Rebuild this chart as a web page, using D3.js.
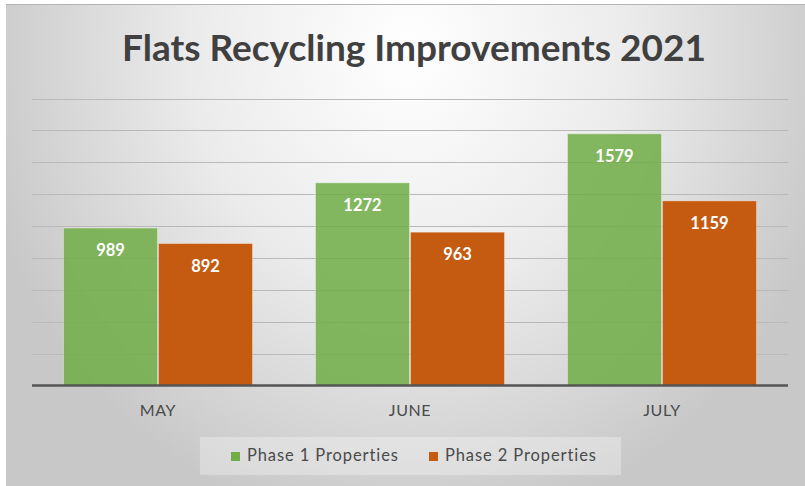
<!DOCTYPE html>
<html lang="en">
<head>
<meta charset="UTF-8">
<title>Flats Recycling Improvements 2021</title>
<script src="https://cdnjs.cloudflare.com/ajax/libs/d3/7.8.5/d3.min.js"></script>
<style>
  body { margin: 0; background: #fff; }
  svg { display: block; font-family: Lato, "Open Sans", sans-serif; }
</style>
</head>
<body>
<svg id="chart" width="805" height="486"></svg>
<script>
// data
var months = ['MAY', 'JUNE', 'JULY']
var seriesNames = ['Phase 1 Properties', 'Phase 2 Properties']
var phase1 = [989, 1272, 1579]
var phase2 = [892, 963, 1159]
var gridTicks = [200, 400, 600, 800, 1000, 1200, 1400, 1600, 1800]

var colors = ['#70AD47', '#C55A11']

var svg = d3.select('#chart')

// background with radial gradient
var defs = svg.append('defs')
var grad = defs.append('radialGradient')
    .attr('id', 'bg')
    .attr('gradientUnits', 'userSpaceOnUse')
    .attr('cx', 410).attr('cy', 50).attr('r', 440)
    .attr('gradientTransform', 'translate(410,50) scale(1,1.1) translate(-410,-50)')
grad.append('stop').attr('offset', 0).attr('stop-color', '#ffffff')
grad.append('stop').attr('offset', 0.5).attr('stop-color', '#ebebeb')
grad.append('stop').attr('offset', 1).attr('stop-color', '#c8c8c8')

svg.append('rect')
    .attr('x', 6).attr('y', 4)
    .attr('width', 805).attr('height', 490)
    .attr('fill', 'url(#bg)')
svg.append('line')
    .attr('x1', 6).attr('x2', 805)
    .attr('y1', 4.5).attr('y2', 4.5)
    .style('stroke', '#b4b4b4')

// title
svg.append('text')
    .attr('x', 414).attr('y', 61)
    .attr('text-anchor', 'middle')
    .style('font-size', '37px')
    .style('font-weight', 'bold')
    .style('fill', '#404040')
    .text('Flats Recycling Improvements 2021')

// scales
var x0 = d3.scaleBand()
    .domain(months)
    .range([32, 788])
    .paddingInner(0.246)
    .paddingOuter(0.123)
var x1 = d3.scaleBand()
    .domain(seriesNames)
    .range([0, x0.bandwidth()])
var y = d3.scaleLinear()
    .domain([0, 1800])
    .range([386, 98.5])

// gridlines
svg.append('g').selectAll('line')
    .data(gridTicks)
    .join('line')
    .attr('x1', 32).attr('x2', 788)
    .attr('y1', function(d) { return Math.round(y(d)) + 0.5 })
    .attr('y2', function(d) { return Math.round(y(d)) + 0.5 })
    .style('stroke', '#b9b9b9')
    .style('stroke-width', 1)

// bars
var rows = months.map(function(m, i) {
    return { month: m, values: [phase1[i], phase2[i]] }
})
var groups = svg.append('g').selectAll('g')
    .data(rows)
    .join('g')
    .attr('transform', function(d) { return 'translate(' + x0(d.month) + ',0)' })

groups.selectAll('rect')
    .data(function(d) { return d.values.map(function(v, k) { return { key: seriesNames[k], k: k, value: v } }) })
    .join('rect')
    .attr('x', function(d) { return x1(d.key) + 0.5 })
    .attr('y', function(d) { return y(d.value) })
    .attr('width', x1.bandwidth() - 1)
    .attr('height', function(d) { return y(0) - y(d.value) })
    .style('fill', function(d) { return colors[d.k] })
    .style('fill-opacity', function(d) { return d.k === 0 ? 0.86 : 1 })
    .style('stroke', 'rgba(255,255,255,0.35)')
    .style('stroke-width', 1)

// value labels inside bars
groups.selectAll('text')
    .data(function(d) { return d.values.map(function(v, k) { return { key: seriesNames[k], k: k, value: v } }) })
    .join('text')
    .attr('x', function(d) { return x1(d.key) + x1.bandwidth() / 2 })
    .attr('y', function(d) { return y(d.value) + 28 })
    .attr('text-anchor', 'middle')
    .style('font-size', '16.5px')
    .style('font-weight', 'bold')
    .style('fill', '#ffffff')
    .text(function(d) { return d.value })

// x axis baseline
svg.append('line')
    .attr('x1', 32).attr('x2', 788)
    .attr('y1', y(0) - 0.5).attr('y2', y(0) - 0.5)
    .style('stroke', '#555555')
    .style('stroke-width', 2.5)

// category labels
svg.append('g').selectAll('text')
    .data(months)
    .join('text')
    .attr('x', function(d) { return x0(d) + x0.bandwidth() / 2 })
    .attr('y', 416)
    .attr('text-anchor', 'middle')
    .style('font-size', '16px')
    .style('letter-spacing', '0.6px')
    .style('fill', '#4a4a4a')
    .text(function(d) { return d })

// legend
var legend = svg.append('g')
legend.append('rect')
    .attr('x', 200).attr('y', 437)
    .attr('width', 421).attr('height', 38)
    .style('fill', '#ffffff')
    .style('fill-opacity', 0.3)
var legX = [231, 429]
var items = legend.selectAll('g.item')
    .data(seriesNames)
    .join('g')
    .attr('class', 'item')
    .attr('transform', function(d, i) { return 'translate(' + legX[i] + ',0)' })
items.append('rect')
    .attr('x', 0).attr('y', 452)
    .attr('width', 9).attr('height', 9)
    .style('fill', function(d, i) { return colors[i] })
items.append('text')
    .attr('x', 16).attr('y', 461)
    .style('font-size', '16.5px')
    .style('letter-spacing', '0.9px')
    .style('fill', '#4a4a4a')
    .text(function(d) { return d })
</script>
</body>
</html>
